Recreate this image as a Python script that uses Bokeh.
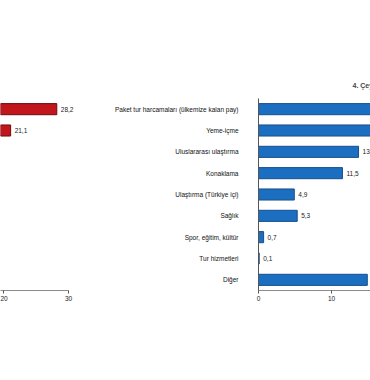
from bokeh.plotting import figure
from bokeh.layouts import row
from bokeh.models import Range1d, FactorRange, FixedTicker, ColumnDataSource
from bokeh.embed import file_html
from bokeh.resources import INLINE

categories = [
    "Paket tur harcamaları (ülkemize kalan pay)",
    "Yeme-içme",
    "Uluslararası ulaştırma",
    "Konaklama",
    "Ulaştırma (Türkiye içi)",
    "Sağlık",
    "Spor, eğitim, kültür",
    "Tur hizmetleri",
    "Diğer",
]
# left panel: only the two bars that reach into the visible part
left_categories = ["Paket tur harcamaları (ülkemize kalan pay)", "Yeme-içme"]
left_values = [28.2, 21.1]
right_values = [20.3, 18.4, 13.7, 11.5, 4.9, 5.3, 0.7, 0.1, 14.9]
left_ticks = [0, 10, 20, 30]
right_ticks = [0, 10, 20, 30]
right_title = "4. Çeyrek"

FONT = "Liberation Sans"
rev = list(reversed(categories))


def fmt(v):
    return f"{v:.1f}".replace(".", ",")


def style_x(p, ticks):
    ax = p.xaxis[0]
    ax.ticker = FixedTicker(ticks=ticks)
    ax.axis_line_color = "#8c8c8c"
    ax.major_tick_line_color = "#555555"
    ax.major_tick_out = 3
    ax.major_tick_in = 0
    ax.minor_tick_line_color = None
    ax.major_label_text_font = FONT
    ax.major_label_text_font_size = "6.5px"
    ax.major_label_text_color = "#222222"
    ax.major_label_standoff = 2


# ---- left panel (red) ----
lsrc = ColumnDataSource(dict(cat=left_categories, v=left_values,
                             lab=[fmt(v) for v in left_values]))
pl = figure(width=100, height=380, y_range=FactorRange(*rev, range_padding=0),
            x_range=Range1d(19.54, 31.54), output_backend="svg",
            toolbar_location=None, min_border_left=0, min_border_right=22,
            min_border_top=98, min_border_bottom=90)
pl.hbar(y="cat", right="v", left=0, height=0.52, source=lsrc,
        fill_color="#c0161c", line_color="#6e0c10", line_width=1)
pl.text(x="v", y="cat", text="lab", source=lsrc, x_offset=4,
        text_font_size="6.5px", text_baseline="middle", text_align="left",
        text_color="#222222", text_font={"value": FONT})
pl.yaxis.visible = False
style_x(pl, left_ticks)
pl.xaxis[0].bounds = (0, 30)
pl.xgrid.grid_line_color = None
pl.ygrid.grid_line_color = None
pl.outline_line_color = None

# ---- right panel (blue) ----
rsrc = ColumnDataSource(dict(cat=categories, v=right_values,
                             lab=[fmt(v) for v in right_values]))
pr = figure(width=270, height=380, y_range=FactorRange(*rev, range_padding=0),
            x_range=Range1d(0, 15.34), output_backend="svg",
            toolbar_location=None, min_border_left=158, min_border_right=0,
            min_border_top=98, min_border_bottom=90, title=right_title)
pr.hbar(y="cat", right="v", left=0, height=0.52, source=rsrc,
        fill_color="#1c6fc0", line_color="#174f8c", line_width=1)
pr.text(x="v", y="cat", text="lab", source=rsrc, x_offset=4,
        text_font_size="6.5px", text_baseline="middle", text_align="left",
        text_color="#222222", text_font={"value": FONT})
style_x(pr, right_ticks)
ya = pr.yaxis[0]
ya.axis_line_color = "#555555"
ya.major_tick_line_color = None
ya.major_tick_out = 0
ya.major_tick_in = 0
ya.major_label_standoff = 20
ya.major_label_text_font = FONT
ya.major_label_text_font_size = "6.5px"
ya.major_label_text_color = "#111111"
pr.title.align = "left"
pr.title.offset = 94
pr.title.text_font = FONT
pr.title.text_font_size = "7px"
pr.title.text_font_style = "bold"
pr.title.standoff = 20
pr.xgrid.grid_line_color = None
pr.ygrid.grid_line_color = None
pr.outline_line_color = None

layout = row(pl, pr, spacing=0)
open("out.html", "w").write(file_html(layout, INLINE))
